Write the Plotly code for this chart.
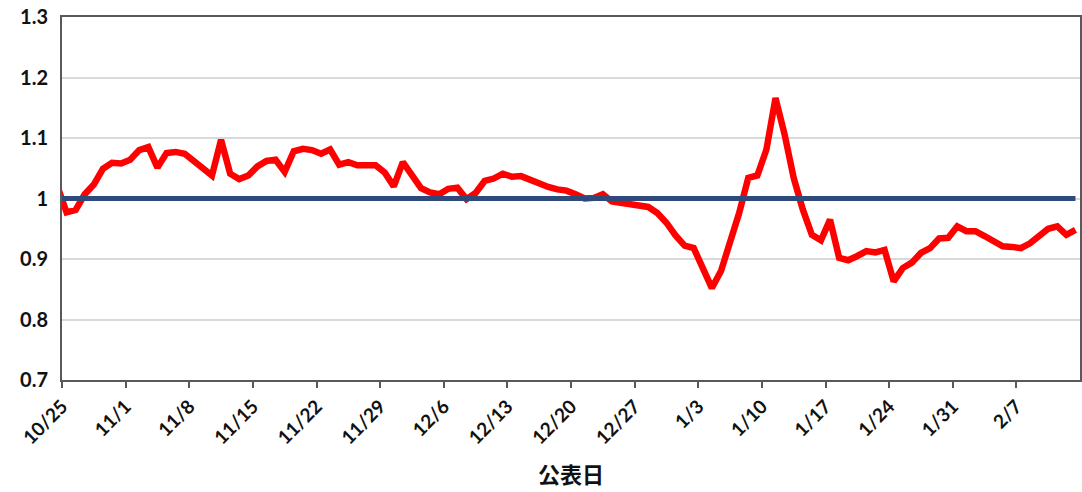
import pandas as pd
import plotly.graph_objects as go

# ---- data ----
start_date = "2020-10-24"
ratio = [
    1.020,
    0.977, 0.981, 1.007, 1.023, 1.049, 1.059, 1.058, 1.064, 1.080, 1.085,
    1.051, 1.075, 1.077, 1.074, 1.063, 1.051, 1.038, 1.097, 1.041, 1.032,
    1.038, 1.053, 1.062, 1.064, 1.044, 1.078, 1.082, 1.080, 1.074, 1.081,
    1.056, 1.060, 1.055, 1.055, 1.055, 1.043, 1.020, 1.060, 1.037, 1.017,
    1.010, 1.007, 1.016, 1.018, 0.999, 1.009, 1.029, 1.033, 1.041, 1.036,
    1.037, 1.031, 1.024, 1.019, 1.015, 1.013, 1.007, 1.000, 1.001, 1.007,
    0.995, 0.993, 0.992, 0.990, 0.986, 0.976, 0.960, 0.939, 0.922, 0.918,
    0.885, 0.852, 0.880, 0.927, 0.976, 1.034, 1.038, 1.081, 1.166, 1.106,
    1.034, 0.982, 0.940, 0.931, 0.965, 0.902, 0.898, 0.905, 0.913, 0.911,
    0.915, 0.863, 0.885, 0.894, 0.910, 0.918, 0.934, 0.935, 0.954, 0.946,
    0.946, 0.938, 0.928, 0.921, 0.920, 0.918, 0.926, 0.939, 0.950, 0.954,
    0.940, 0.948,
]
reference_level = 1.0
tick_dates = ["2020-10-25", "2020-11-01", "2020-11-08", "2020-11-15", "2020-11-22",
              "2020-11-29", "2020-12-06", "2020-12-13", "2020-12-20", "2020-12-27",
              "2021-01-03", "2021-01-10", "2021-01-17", "2021-01-24", "2021-01-31",
              "2021-02-07"]
tick_labels = ["10/25", "11/1", "11/8", "11/15", "11/22", "11/29", "12/6", "12/13",
               "12/20", "12/27", "1/3", "1/10", "1/17", "1/24", "1/31", "2/7"]
y_ticks = [0.7, 0.8, 0.9, 1.0, 1.1, 1.2, 1.3]
x_title = "公表日"

dates = pd.date_range(start_date, periods=len(ratio), freq="D")
half_day = pd.Timedelta(hours=12)
tickvals = [pd.Timestamp(t) - half_day for t in tick_dates]
x_range = [pd.Timestamp("2020-10-25") - half_day, pd.Timestamp("2021-02-14") - half_day]

num_font = "Lato, 'Open Sans', sans-serif"

fig = go.Figure()
fig.add_trace(go.Scatter(
    x=dates, y=ratio, mode="lines",
    line=dict(color="#FF0000", width=6.5),
    showlegend=False, hoverinfo="skip",
))
fig.add_trace(go.Scatter(
    x=dates, y=[reference_level] * len(dates), mode="lines",
    line=dict(color="#2D4A7A", width=5),
    showlegend=False, hoverinfo="skip",
))

fig.update_layout(
    width=1082, height=492,
    margin=dict(l=62, r=2, t=17, b=112, autoexpand=False),
    paper_bgcolor="white", plot_bgcolor="white",
    font=dict(family=num_font, color="#1a1a1a"),
)
fig.update_xaxes(
    type="date", range=x_range,
    tickmode="array", tickvals=tickvals, ticktext=tick_labels,
    tickangle=-45, automargin=False, ticklabeloverflow="allow",
    tickfont=dict(family=num_font, size=19, color="#111111", weight="bold"),
    ticks="outside", ticklen=6, tickwidth=1.5, tickcolor="#595959",
    showline=True, linecolor="#595959", linewidth=2, mirror=True,
    showgrid=False, zeroline=False,
    title=dict(text=x_title, standoff=20,
               font=dict(family="'Noto Sans CJK JP', sans-serif", size=22,
                         color="#111111", weight="bold")),
)
fig.update_yaxes(
    range=[0.7, 1.3], tickmode="array", tickvals=y_ticks, automargin=False,
    ticklabeloverflow="allow",
    tickfont=dict(family=num_font, size=20, color="#111111", weight="bold"),
    ticks="", ticklabelstandoff=8,
    showline=True, linecolor="#595959", linewidth=2, mirror=True,
    showgrid=True, gridcolor="#D9D9D9", gridwidth=2,
    zeroline=False,
)

fig.write_html(
    "out.html",
    config={"displayModeBar": False},
    post_script="document.body.style.margin='0';document.body.style.overflow='hidden';",
)
